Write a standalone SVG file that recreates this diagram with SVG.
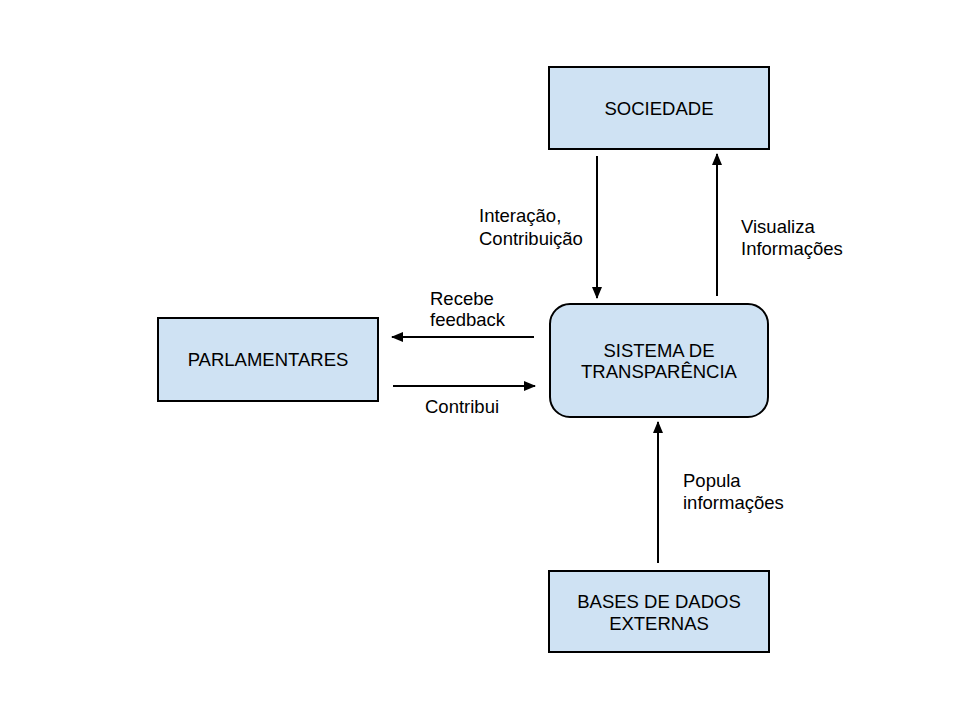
<svg xmlns="http://www.w3.org/2000/svg" width="960" height="720" viewBox="0 0 960 720">
<style>
.node{fill:#cfe2f3;stroke:#000;stroke-width:2}
.t{font-family:"Liberation Sans",Arial,sans-serif;font-size:18.5px;fill:#000}
.c{text-anchor:middle}
.e{stroke:#000;stroke-width:2;fill:none;marker-end:url(#ah)}
</style>
<defs>
<marker id="ah" markerWidth="12" markerHeight="10" refX="11" refY="5" orient="auto" markerUnits="userSpaceOnUse">
<path d="M0,0 L12,5 L0,10 z" fill="#000"/>
</marker>
</defs>
<rect width="960" height="720" fill="#fff"/>
<g id="sociedade">
<rect class="node" x="549" y="67" width="220" height="82"/>
<text class="t c" x="659" y="115">SOCIEDADE</text>
</g>
<g id="parlamentares">
<rect class="node" x="158" y="318" width="220" height="83"/>
<text class="t c" x="268" y="366">PARLAMENTARES</text>
</g>
<g id="sistema">
<rect class="node" x="550" y="304" width="218" height="113" rx="20" ry="20"/>
<text class="t c" x="659" y="357">SISTEMA DE</text>
<text class="t c" x="659" y="378">TRANSPARÊNCIA</text>
</g>
<g id="bases">
<rect class="node" x="549" y="571" width="220" height="81"/>
<text class="t c" x="659" y="608">BASES DE DADOS</text>
<text class="t c" x="659" y="630">EXTERNAS</text>
</g>
<g id="connectors">
<line class="e" x1="597" y1="156" x2="597" y2="298"/>
<line class="e" x1="717" y1="296" x2="717" y2="154"/>
<line class="e" x1="534" y1="337" x2="392" y2="337"/>
<line class="e" x1="393" y1="386" x2="535" y2="386"/>
<line class="e" x1="658" y1="563" x2="658" y2="422"/>
<text class="t" x="479" y="222">Interação,</text>
<text class="t" x="479" y="245">Contribuição</text>
<text class="t" x="741" y="233">Visualiza</text>
<text class="t" x="741" y="255">Informações</text>
<text class="t" x="430" y="305">Recebe</text>
<text class="t" x="430" y="326">feedback</text>
<text class="t" x="425" y="413">Contribui</text>
<text class="t" x="683" y="487">Popula</text>
<text class="t" x="683" y="509">informações</text>
</g>
</svg>
